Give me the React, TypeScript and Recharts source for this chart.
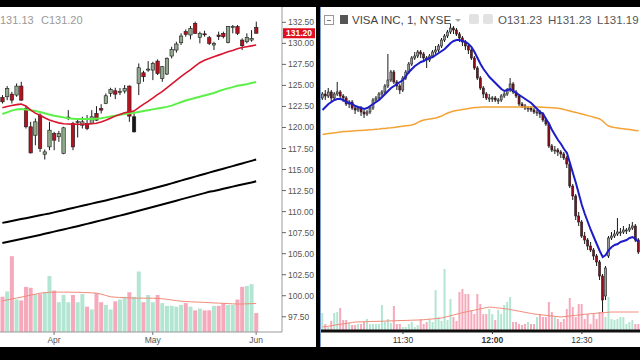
import { ComposedChart, Bar, Line, XAxis, YAxis, ReferenceLine, Cell } from 'recharts'

const FONT = '"Liberation Sans", Arial, sans-serif'

// ---- daily panel (left) ----
const days = [
  '2018-03-15', '2018-03-16', '2018-03-19', '2018-03-20', '2018-03-21', '2018-03-22', '2018-03-23', '2018-03-26', '2018-03-27', '2018-03-28', '2018-03-29',
  '2018-04-02', '2018-04-03', '2018-04-04', '2018-04-05', '2018-04-06', '2018-04-09', '2018-04-10', '2018-04-11', '2018-04-12', '2018-04-13',
  '2018-04-16', '2018-04-17', '2018-04-18', '2018-04-19', '2018-04-20', '2018-04-23', '2018-04-24', '2018-04-25', '2018-04-26', '2018-04-27', '2018-04-30',
  '2018-05-01', '2018-05-02', '2018-05-03', '2018-05-04', '2018-05-07', '2018-05-08', '2018-05-09', '2018-05-10', '2018-05-11', '2018-05-14', '2018-05-15',
  '2018-05-16', '2018-05-17', '2018-05-18', '2018-05-21', '2018-05-22', '2018-05-23', '2018-05-24', '2018-05-25', '2018-05-29', '2018-05-30', '2018-05-31',
  '2018-06-01', '2018-06-04', '2018-06-05', '2018-06-06', '2018-06-07', '2018-06-08',
]
const dayOpen = [
  123.57, 123.65, 123.96, 123.85, 124.92, 122.26, 120.08, 119.08, 121.47, 116.82,
  117.69, 119.28, 118.89, 116.9, 121.15, 120.47, 120.63, 120.27, 120.47, 120.47,
  121.67, 122.26, 122.85, 124.04, 124.36, 124.2, 124.32, 124.92, 119.48, 125.23,
  126.5, 126.86, 126.82, 127.89, 125.83, 126.35, 128.49, 129.2, 130.07, 131.39,
  130.99, 132.38, 130.71, 131.13, 130.67, 129.8, 130.99, 131.19, 130.11, 131.96,
  131.98, 130.39, 130.19, 130.39, 131.9,
]
const dayHigh = [
  123.85, 124.92, 124.24, 125.23, 125.43, 122.54, 120.67, 121.07, 121.67, 117.38,
  120.67, 119.48, 119.6, 120.08, 122.06, 120.67, 121.07, 121.27, 121.47, 122.06,
  122.54, 122.77, 124.04, 124.72, 124.72, 124.68, 125.04, 125.0, 121.67, 127.61,
  126.74, 127.89, 127.81, 128.09, 127.3, 128.33, 129.6, 130.19, 131.19, 131.66,
  132.06, 132.58, 131.39, 131.5, 130.87, 130.19, 131.39, 131.39, 132.06, 132.18,
  132.18, 130.59, 131.19, 131.58, 132.58,
]
const dayLow = [
  122.85, 123.25, 122.85, 123.65, 123.17, 119.88, 116.9, 117.89, 117.1, 116.19,
  117.3, 117.3, 118.29, 116.82, 120.87, 117.3, 118.81, 119.88, 119.68, 120.39,
  120.79, 121.67, 122.77, 123.65, 123.37, 123.85, 124.04, 120.67, 119.4, 123.85,
  125.43, 126.62, 125.63, 126.23, 125.43, 126.23, 128.21, 128.89, 129.8, 130.79,
  130.47, 131.11, 130.0, 130.79, 129.8, 129.2, 130.39, 130.59, 130.0, 131.19,
  130.99, 129.2, 130.0, 130.19, 131.19,
]
const dayClose = [
  123.05, 124.64, 123.25, 124.92, 123.25, 120.08, 116.98, 120.67, 117.5, 117.1,
  119.68, 118.49, 119.28, 119.96, 121.23, 117.69, 120.71, 120.67, 119.88, 121.27,
  120.87, 122.06, 123.77, 124.52, 123.96, 124.28, 124.64, 121.35, 121.27, 127.1,
  126.03, 126.94, 127.61, 126.42, 127.22, 128.21, 129.28, 129.92, 130.87, 131.07,
  131.78, 131.19, 131.19, 131.09, 130.0, 130.0, 130.79, 130.79, 131.98, 132.0,
  131.19, 129.72, 130.71, 130.59, 131.2,
]
// millions of shares
const dayVolume = [
  3.9, 4.5, 8.4, 3.6, 3.5, 5.0, 4.9, 4.2, 4.2, 4.4,
  6.2, 4.6, 3.3, 4.1, 3.3, 4.1, 3.3, 4.2, 2.8, 2.5,
  4.3, 3.3, 3.0, 2.5, 3.4, 3.6, 3.9, 4.4, 3.9, 6.7,
  3.3, 4.1, 3.3, 4.1, 3.2, 2.9, 2.9, 2.8, 3.0, 3.2,
  2.8, 2.4, 2.6, 2.4, 2.4, 2.9, 2.9, 3.2, 3.0, 3.0,
  3.6, 5.0, 5.1, 5.3, 2.1,
]
const dayVolumeAvg = [
  3.45, 3.55, 3.65, 3.76, 3.86, 3.97, 4.08, 4.19, 4.3, 4.35,
  4.4, 4.4, 4.42, 4.42, 4.42, 4.4, 4.4, 4.38, 4.36, 4.34,
  4.3, 4.2, 4.05, 3.9, 3.86, 3.82, 3.8, 3.78, 3.76, 3.75,
  3.75, 3.75, 3.74, 3.72, 3.68, 3.62, 3.55, 3.48, 3.42, 3.38,
  3.35, 3.32, 3.3, 3.28, 3.25, 3.22, 3.2, 3.18, 3.15, 3.12,
  3.1, 3.1, 3.12, 3.15, 3.15,
]
const ma20 = [
  122.35, 122.5, 122.62, 122.72, 122.78, 122.55, 122.1, 121.7, 121.45, 121.15,
  120.9, 120.7, 120.55, 120.45, 120.42, 120.4, 120.38, 120.38, 120.4, 120.45,
  120.5, 120.65, 120.85, 121.1, 121.35, 121.55, 121.75, 121.85, 121.95, 122.35,
  122.75, 123.1, 123.5, 123.9, 124.25, 124.7, 125.15, 125.6, 126.05, 126.45,
  126.85, 127.3, 127.7, 128.0, 128.2, 128.4, 128.6, 128.8, 129.0, 129.15,
  129.35, 129.5, 129.6, 129.7, 129.8,
]
const ma50 = [
  121.6, 121.8, 122.0, 122.15, 122.2, 122.15, 122.05, 121.95, 121.85, 121.7,
  121.55, 121.4, 121.3, 121.2, 121.1, 121.05, 121.0, 121.0, 121.0, 121.0,
  121.05, 121.1, 121.2, 121.3, 121.4, 121.5, 121.6, 121.7, 121.75, 121.85,
  121.95, 122.05, 122.15, 122.25, 122.35, 122.45, 122.6, 122.8, 123.0, 123.2,
  123.35, 123.5, 123.65, 123.8, 123.95, 124.1, 124.3, 124.5, 124.65, 124.8,
  124.95, 125.05, 125.15, 125.28, 125.4,
]
const bandUpper = [
  108.66, 108.77, 108.88, 109.0, 109.11, 109.22, 109.33, 109.45, 109.56, 109.67,
  109.78, 109.91, 110.04, 110.17, 110.3, 110.43, 110.56, 110.69, 110.82, 110.95,
  111.08, 111.2, 111.33, 111.46, 111.6, 111.74, 111.88, 112.02, 112.16, 112.3,
  112.45, 112.6, 112.75, 112.9, 113.05, 113.2, 113.36, 113.52, 113.68, 113.84,
  114.0, 114.16, 114.32, 114.48, 114.63, 114.79, 114.95, 115.1, 115.26, 115.41,
  115.57, 115.72, 115.88, 116.03, 116.19,
]
const bandLower = [
  106.26, 106.38, 106.5, 106.62, 106.74, 106.86, 106.98, 107.1, 107.23, 107.36,
  107.49, 107.62, 107.75, 107.88, 108.01, 108.14, 108.27, 108.4, 108.54, 108.68,
  108.82, 108.96, 109.1, 109.24, 109.38, 109.52, 109.66, 109.8, 109.95, 110.1,
  110.25, 110.4, 110.55, 110.7, 110.85, 111.0, 111.15, 111.3, 111.45, 111.6,
  111.75, 111.9, 112.05, 112.2, 112.35, 112.45, 112.58, 112.71, 112.84, 112.97,
  113.1, 113.22, 113.34, 113.46, 113.6,
]
const priceTicks = [97.5, 100, 102.5, 105, 107.5, 110, 112.5, 115, 117.5, 120, 122.5, 125, 127.5, 130, 132.5]
const monthTicks = ['2018-04-02', '2018-05-01', '2018-06-01']
const monthNames: Record<string, string> = { '2018-04-02': 'Apr', '2018-05-01': 'May', '2018-06-01': 'Jun' }
const GAP_DOWN_DAY = '2018-04-25'
const LAST_PRICE = 131.2

// ---- 1 minute panel (right) ----
const minutes = Array.from({ length: 107 }, (_, k) => {
  const t = 11 * 60 + 3 + k
  return `${Math.floor(t / 60)}:${String(t % 60).padStart(2, '0')}`
})
const minOpen = [
  131.97, 131.99, 131.98, 132.0, 131.97, 131.99, 132.0, 131.98, 131.97, 131.94,
  131.95, 131.92, 131.91, 131.92, 131.9, 131.89, 131.9, 131.92, 131.96, 131.97,
  131.99, 132.0, 132.03, 132.06, 132.1, 132.05, 132.03, 132.01, 132.07, 132.1,
  132.14, 132.17, 132.18, 132.2, 132.19, 132.17, 132.16, 132.18, 132.2, 132.21,
  132.23, 132.26, 132.28, 132.3, 132.32, 132.31, 132.29, 132.27, 132.25, 132.23,
  132.21, 132.17, 132.12, 132.07, 132.02, 131.99, 131.97, 131.97, 131.97, 131.96,
  131.96, 131.98, 131.99, 132.01, 132.04, 132.0, 131.98, 131.94, 131.93, 131.92,
  131.92, 131.91, 131.9, 131.9, 131.89, 131.86, 131.84, 131.73, 131.71, 131.71,
  131.7, 131.69, 131.67, 131.64, 131.53, 131.48, 131.38, 131.35, 131.28, 131.26,
  131.23, 131.21, 131.18, 131.15, 131.08, 130.98, 131.18, 131.27, 131.28, 131.29,
  131.3, 131.3, 131.31, 131.31, 131.32, 131.33, 131.26,
]
const minHigh = [
  132.0, 132.01, 132.02, 132.01, 132.0, 132.05, 132.01, 131.99, 131.98, 131.96,
  131.96, 131.93, 131.93, 131.93, 131.91, 131.91, 131.93, 131.97, 131.98, 132.0,
  132.01, 132.04, 132.19, 132.11, 132.11, 132.06, 132.04, 132.08, 132.11, 132.15,
  132.18, 132.2, 132.21, 132.21, 132.2, 132.18, 132.19, 132.21, 132.23, 132.24,
  132.27, 132.29, 132.31, 132.34, 132.33, 132.32, 132.3, 132.28, 132.26, 132.24,
  132.22, 132.18, 132.13, 132.08, 132.03, 132.0, 131.99, 131.98, 131.98, 131.97,
  131.99, 132.0, 132.02, 132.07, 132.05, 132.01, 131.99, 131.95, 131.94, 131.93,
  131.93, 131.92, 131.91, 131.91, 131.9, 131.87, 131.85, 131.74, 131.73, 131.72,
  131.71, 131.7, 131.68, 131.65, 131.54, 131.49, 131.4, 131.36, 131.3, 131.27,
  131.25, 131.22, 131.19, 131.16, 131.09, 131.13, 131.28, 131.3, 131.31, 131.37,
  131.32, 131.33, 131.32, 131.34, 131.35, 131.34, 131.27,
]
const minLow = [
  131.96, 131.96, 131.97, 131.95, 131.96, 131.98, 131.97, 131.95, 131.93, 131.92,
  131.91, 131.89, 131.9, 131.88, 131.87, 131.88, 131.89, 131.91, 131.95, 131.96,
  131.98, 131.99, 132.02, 132.05, 132.04, 132.01, 131.99, 132.0, 132.06, 132.09,
  132.13, 132.16, 132.17, 132.17, 132.16, 132.12, 132.15, 132.17, 132.19, 132.2,
  132.22, 132.25, 132.27, 132.29, 132.29, 132.28, 132.25, 132.23, 132.21, 132.19,
  132.16, 132.11, 132.06, 132.01, 131.97, 131.96, 131.95, 131.95, 131.95, 131.94,
  131.95, 131.97, 131.98, 132.0, 131.99, 131.97, 131.93, 131.92, 131.91, 131.9,
  131.9, 131.89, 131.88, 131.87, 131.85, 131.83, 131.72, 131.7, 131.69, 131.68,
  131.67, 131.66, 131.62, 131.52, 131.46, 131.36, 131.33, 131.27, 131.24, 131.21,
  131.2, 131.16, 131.13, 131.06, 130.9, 130.96, 131.17, 131.26, 131.27, 131.28,
  131.28, 131.29, 131.29, 131.3, 131.31, 131.25, 131.19,
]
const minClose = [
  131.99, 131.98, 132.0, 131.97, 131.99, 132.0, 131.98, 131.97, 131.94, 131.95,
  131.92, 131.91, 131.92, 131.9, 131.89, 131.9, 131.92, 131.96, 131.97, 131.99,
  132.0, 132.03, 132.06, 132.1, 132.05, 132.03, 132.01, 132.07, 132.1, 132.14,
  132.17, 132.18, 132.2, 132.19, 132.17, 132.16, 132.18, 132.2, 132.21, 132.23,
  132.26, 132.28, 132.3, 132.32, 132.31, 132.29, 132.27, 132.25, 132.23, 132.21,
  132.17, 132.12, 132.07, 132.02, 131.99, 131.97, 131.97, 131.97, 131.96, 131.96,
  131.98, 131.99, 132.01, 132.04, 132.0, 131.98, 131.94, 131.93, 131.92, 131.92,
  131.91, 131.9, 131.9, 131.89, 131.86, 131.84, 131.73, 131.71, 131.71, 131.7,
  131.69, 131.67, 131.64, 131.53, 131.48, 131.38, 131.35, 131.28, 131.26, 131.23,
  131.21, 131.18, 131.15, 131.08, 130.96, 131.12, 131.27, 131.28, 131.29, 131.3,
  131.3, 131.31, 131.31, 131.32, 131.33, 131.26, 131.2,
]
// hundreds of shares
const minVolume = [
  18, 7, 4, 10, 18, 19, 23, 11, 11, 8,
  6, 6, 7, 7, 9, 12, 7, 7, 7, 7,
  26, 9, 12, 8, 25, 7, 7, 4, 4, 7,
  9, 4, 6, 12, 7, 9, 12, 9, 41, 14,
  10, 62, 11, 32, 14, 10, 39, 42, 37, 37,
  21, 17, 37, 27, 17, 17, 22, 17, 11, 21,
  17, 26, 29, 34, 9, 9, 7, 6, 7, 9,
  7, 7, 14, 17, 14, 14, 29, 19, 14, 12,
  9, 12, 22, 33, 24, 14, 27, 27, 12, 17,
  7, 17, 12, 19, 19, 14, 34, 12, 11, 12,
  14, 14, 7, 9, 11, 7, 7,
]
const minVolumeAvg = [
  4.0, 4.4, 4.9, 5.3, 5.8, 6.3, 6.7, 7.2, 7.6, 8.1,
  8.5, 9.0, 9.1, 9.2, 9.3, 9.4, 9.5, 9.6, 9.6, 9.7,
  9.8, 9.9, 10.0, 10.1, 10.2, 10.3, 10.4, 10.5, 10.6, 10.7,
  10.8, 10.9, 11.0, 11.0, 11.3, 11.6, 11.9, 12.1, 12.4, 12.7,
  13.0, 13.8, 14.5, 15.3, 16.0, 16.8, 17.5, 18.3, 19.0, 19.6,
  20.3, 20.9, 21.5, 22.1, 22.8, 23.4, 24.0, 23.7, 23.3, 23.0,
  22.7, 22.3, 22.0, 21.4, 20.9, 20.3, 19.8, 19.2, 18.7, 18.1,
  17.6, 17.0, 16.7, 16.3, 16.0, 15.7, 15.3, 15.0, 14.7, 14.3,
  14.0, 14.3, 14.7, 15.0, 15.3, 15.7, 16.0, 16.3, 16.7, 17.0,
  17.3, 17.5, 17.8, 18.0, 18.3, 18.5, 18.8, 19.0, 19.0, 19.0,
  19.0, 19.0, 19.0, 19.0, 19.0, 19.0, 19.0,
]
const ema9 = [
  131.91, 131.925, 131.94, 131.95, 131.96, 131.965, 131.965, 131.96, 131.95, 131.945,
  131.94, 131.93, 131.925, 131.92, 131.915, 131.92, 131.93, 131.94, 131.95, 131.96,
  131.975, 131.99, 132.005, 132.02, 132.03, 132.04, 132.05, 132.06, 132.08, 132.1,
  132.115, 132.13, 132.14, 132.15, 132.155, 132.165, 132.17, 132.175, 132.185, 132.195,
  132.205, 132.215, 132.23, 132.245, 132.255, 132.26, 132.26, 132.255, 132.25, 132.24,
  132.225, 132.2, 132.17, 132.14, 132.115, 132.095, 132.075, 132.06, 132.045, 132.03,
  132.015, 132.005, 132.01, 132.015, 132.005, 131.995, 131.985, 131.975, 131.965, 131.955,
  131.945, 131.93, 131.915, 131.9, 131.89, 131.865, 131.84, 131.81, 131.785, 131.76,
  131.74, 131.715, 131.695, 131.645, 131.595, 131.545, 131.49, 131.435, 131.39, 131.35,
  131.31, 131.275, 131.24, 131.205, 131.175, 131.185, 131.21, 131.225, 131.235, 131.24,
  131.25, 131.255, 131.26, 131.27, 131.275, 131.265, 131.25,
]
const sma200 = [
  131.788, 131.79, 131.792, 131.794, 131.796, 131.798, 131.8, 131.802, 131.803, 131.804,
  131.805, 131.806, 131.807, 131.808, 131.809, 131.81, 131.811, 131.812, 131.814, 131.815,
  131.817, 131.818, 131.82, 131.821, 131.823, 131.825, 131.827, 131.829, 131.831, 131.833,
  131.835, 131.84, 131.848, 131.855, 131.86, 131.863, 131.865, 131.868, 131.87, 131.875,
  131.88, 131.888, 131.895, 131.9, 131.905, 131.908, 131.91, 131.913, 131.915, 131.918,
  131.92, 131.922, 131.923, 131.924, 131.925, 131.925, 131.925, 131.925, 131.925, 131.925,
  131.925, 131.925, 131.925, 131.925, 131.925, 131.925, 131.925, 131.925, 131.925, 131.925,
  131.925, 131.925, 131.925, 131.925, 131.924, 131.923, 131.922, 131.921, 131.92, 131.919,
  131.916, 131.913, 131.909, 131.905, 131.901, 131.898, 131.894, 131.89, 131.886, 131.882,
  131.878, 131.874, 131.87, 131.865, 131.855, 131.84, 131.83, 131.825, 131.822, 131.82,
  131.818, 131.816, 131.814, 131.812, 131.81, 131.808, 131.806,
]
const timeTicks = ['11:30', '12:00', '12:30']

const dailyRows = days.map((date, i) => ({
  date,
  open: dayOpen[i],
  high: dayHigh[i],
  low: dayLow[i],
  close: dayClose[i],
  volume: dayVolume[i],
  volAvg: dayVolumeAvg[i],
  ma20: ma20[i],
  ma50: ma50[i],
  upper: bandUpper[i],
  lower: bandLower[i],
}))

const minuteRows = minutes.map((time, k) => ({
  time,
  open: minOpen[k],
  high: minHigh[k],
  low: minLow[k],
  close: minClose[k],
  volume: minVolume[k],
  volAvg: minVolumeAvg[k],
  ema: ema9[k],
  sma: sma200[k],
}))

const range = (r: any) => (r.high == null ? null : [r.low, r.high])

function candle(upFill: string, downFill: string, bodyW: number) {
  return (props: any) => {
    const { x, y, width, height, payload } = props
    if (!payload || payload.high == null) return <g />
    const top = Math.min(y, y + height)
    const span = Math.abs(height)
    const k = payload.high > payload.low ? span / (payload.high - payload.low) : 0
    const yo = top + (payload.high - payload.open) * k
    const yc = top + (payload.high - payload.close) * k
    const cx = x + width / 2
    const up = payload.close >= payload.open
    const fill = payload.date === GAP_DOWN_DAY ? '#151515' : up ? upFill : downFill
    return (
      <g>
        <line x1={cx} x2={cx} y1={top} y2={top + span} stroke="#1b1b1b" strokeWidth={1} />
        <rect x={cx - bodyW / 2} y={Math.min(yo, yc)} width={bodyW} height={Math.max(1, Math.abs(yc - yo))}
          fill={fill} stroke="#1b1b1b" strokeWidth={0.6} />
      </g>
    )
  }
}

const PriceTag = (props: any) => {
  const vb = props.viewBox || {}
  const x = vb.x + vb.width + 1
  return (
    <g>
      <rect x={x} y={vb.y - 5} width={32} height={10} fill="#e01020" />
      <text x={x + 16} y={vb.y + 3.2} textAnchor="middle" fill="#fff" fontSize={8.5} fontWeight={700} fontFamily={FONT}>
        {LAST_PRICE.toFixed(2)}
      </text>
    </g>
  )
}

const TimeTick = (props: any) => {
  const { x, y, payload } = props
  return (
    <text x={x} y={y + 7} textAnchor="middle" fontSize={8.5} fontFamily={FONT} fill="#333"
      fontWeight={payload.value === '12:00' ? 700 : 400}>
      {payload.value}
    </text>
  )
}

const PINK = '#f6a9bb'
const MINT = '#b2e6d2'

function DailyChart() {
  return (
    <ComposedChart width={316} height={340} data={dailyRows} margin={{ top: 0, right: 0, bottom: 0, left: 0 }}>
      <XAxis xAxisId="p" dataKey="date" ticks={monthTicks} interval={0} tickFormatter={(d) => monthNames[d] || ''}
        height={15} tickSize={3} tickMargin={2} axisLine={{ stroke: '#9a9a9a' }} tickLine={{ stroke: '#777' }}
        tick={{ fontSize: 8.5, fill: '#555', fontFamily: FONT }} />
      <XAxis xAxisId="v" dataKey="date" hide />
      <YAxis yAxisId="p" orientation="right" width={34} domain={[95.69, 134.32]} allowDataOverflow ticks={priceTicks}
        interval={0} tickFormatter={(v) => Number(v).toFixed(2)} tickSize={4} tickMargin={2}
        axisLine={{ stroke: '#9a9a9a' }} tickLine={{ stroke: '#666' }}
        tick={{ fontSize: 8.5, fill: '#555', fontFamily: FONT }} />
      <YAxis yAxisId="v" hide domain={[0, 36]} allowDataOverflow />
      <Bar xAxisId="v" yAxisId="v" dataKey="volume" barCategoryGap="8%" isAnimationActive={false}>
        {dailyRows.map((r, i) => (
          <Cell key={i} fill={r.close >= r.open ? MINT : PINK} />
        ))}
      </Bar>
      <Line xAxisId="v" yAxisId="v" dataKey="volAvg" stroke="#f08a78" strokeWidth={1} dot={false} isAnimationActive={false} />
      <Line xAxisId="p" yAxisId="p" dataKey="upper" stroke="#000" strokeWidth={2} dot={false} isAnimationActive={false} />
      <Line xAxisId="p" yAxisId="p" dataKey="lower" stroke="#000" strokeWidth={2} dot={false} isAnimationActive={false} />
      <Line xAxisId="p" yAxisId="p" dataKey="ma50" stroke="#5cf048" strokeWidth={2} dot={false} isAnimationActive={false} />
      <Line xAxisId="p" yAxisId="p" dataKey="ma20" stroke="#d8142e" strokeWidth={1.6} dot={false} isAnimationActive={false} />
      <Bar xAxisId="p" yAxisId="p" dataKey={range} shape={candle('#8fa98a', '#b3121f', 3.4)} isAnimationActive={false} />
      <ReferenceLine xAxisId="p" yAxisId="p" y={LAST_PRICE} stroke="none" label={<PriceTag />} />
    </ComposedChart>
  )
}

function MinuteChart() {
  return (
    <ComposedChart width={319} height={340} data={minuteRows} margin={{ top: 0, right: 0, bottom: 0, left: 0 }}>
      <XAxis xAxisId="p" dataKey="time" ticks={timeTicks} interval={0} height={16} tickSize={3}
        axisLine={{ stroke: '#111', strokeWidth: 3 }} tickLine={{ stroke: '#333' }} tick={<TimeTick />} />
      <XAxis xAxisId="v" dataKey="time" hide />
      <YAxis yAxisId="p" hide domain={[130.805, 132.425]} allowDataOverflow />
      <YAxis yAxisId="v" hide domain={[0, 324]} allowDataOverflow />
      <Bar xAxisId="v" yAxisId="v" dataKey="volume" barCategoryGap="12%" isAnimationActive={false}>
        {minuteRows.map((r, i) => (
          <Cell key={i} fill={r.close >= r.open ? MINT : PINK} />
        ))}
      </Bar>
      <Line xAxisId="v" yAxisId="v" dataKey="volAvg" stroke="#f08a78" strokeWidth={1} dot={false} isAnimationActive={false} />
      <Line xAxisId="p" yAxisId="p" dataKey="sma" stroke="#f4a234" strokeWidth={1.5} dot={false} isAnimationActive={false} />
      <Bar xAxisId="p" yAxisId="p" dataKey={range} shape={candle('#9a9a9a', '#8e0c18', 2)} isAnimationActive={false} />
      <Line xAxisId="p" yAxisId="p" dataKey="ema" stroke="#1c1cc8" strokeWidth={2} dot={false} isAnimationActive={false} />
    </ComposedChart>
  )
}

const text = (left: number, color: string, size = 11.5): any => ({
  position: 'absolute', left, top: 13, fontSize: size, lineHeight: '14px', color, fontFamily: FONT, whiteSpace: 'nowrap',
})

export default function App() {
  return (
    <div style={{ position: 'fixed', left: 0, top: 0, width: 640, height: 360, background: '#000', overflow: 'hidden' }}>
      <div style={{ position: 'absolute', left: 0, top: 7, width: 316, height: 340, background: '#fff', overflow: 'hidden' }}>
        <DailyChart />
        <span style={{ ...text(0, '#9a9a9a', 11), top: 6 }}>131.13</span>
        <span style={{ ...text(41, '#9a9a9a', 11), top: 6 }}>C131.20</span>
      </div>
      <div style={{ position: 'absolute', left: 320, top: 7, width: 320, height: 340, background: '#fff', borderLeft: '1px solid #7d9ccc', boxSizing: 'border-box', overflow: 'hidden' }}>
        <MinuteChart />
      </div>
      {/* header of the 1 minute pane */}
      <div style={{ position: 'absolute', left: 324, top: 15, width: 8, height: 8, border: '1px solid #999' }}>
        <div style={{ position: 'absolute', left: 2, top: 3.5, width: 4, height: 1, background: '#777' }} />
      </div>
      <div style={{ position: 'absolute', left: 340, top: 15, width: 8, height: 9, background: '#555' }} />
      <span style={text(352, '#444')}>VISA INC, 1, NYSE</span>
      <div style={{ position: 'absolute', left: 455, top: 19, width: 0, height: 0, borderLeft: '3px solid transparent', borderRight: '3px solid transparent', borderTop: '3px solid #aaa' }} />
      <div style={{ position: 'absolute', left: 469, top: 14, width: 10, height: 10, background: '#e2e2e2', borderRadius: 2 }} />
      <div style={{ position: 'absolute', left: 483, top: 14, width: 10, height: 10, background: '#e2e2e2', borderRadius: 2 }} />
      <span style={text(498, '#555')}>O131.23</span>
      <span style={text(548, '#555')}>H131.23</span>
      <span style={text(597, '#555')}>L131.19</span>
    </div>
  )
}
